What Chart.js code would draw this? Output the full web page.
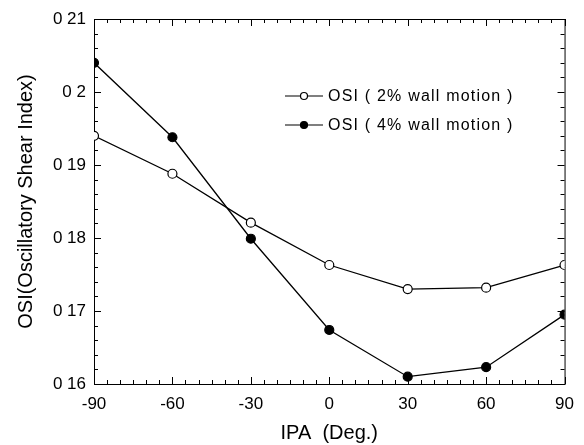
<!DOCTYPE html>
<html>
<head>
<meta charset="utf-8">
<script src="https://cdn.jsdelivr.net/npm/chart.js@4/dist/chart.umd.min.js"></script>
<style>
  html, body { margin: 0; padding: 0; background: #fff; }
  #wrap { width: 584px; height: 445px; }
</style>
</head>
<body>
<div id="wrap"><canvas id="osiChart" width="584" height="445"></canvas></div>
<script>
"use strict";

const ipaAngles = [-90, -60, -30, 0, 30, 60, 90];
const osiWall2 = [0.1940, 0.1888, 0.1821, 0.1763, 0.1730, 0.1732, 0.1763];
const osiWall4 = [0.2040, 0.1938, 0.1799, 0.1674, 0.1610, 0.1623, 0.1695];
const xTickLabels = ["-90", "-60", "-30", "0", "30", "60", "90"];
const yTickValues = [0.16, 0.17, 0.18, 0.19, 0.20, 0.21];
const yTickLabels = ["0 16", "0 17", "0 18", "0 19", "0 2", "0 21"];
const seriesLabels = ["OSI ( 2% wall motion )", "OSI ( 4% wall motion )"];

const FONT = "'Liberation Sans', Arial, sans-serif";

function toPoints(values) {
  return ipaAngles.map((a, i) => ({ x: a, y: values[i] }));
}

// inward tick marks on all four sides, like the old plotting package
const frameTicks = {
  id: "frameTicks",
  beforeDatasetsDraw(chart) {
    const { ctx, chartArea: area, scales } = chart;
    const xs = scales.x, ys = scales.y;
    ctx.save();
    ctx.strokeStyle = "#000";
    ctx.lineWidth = 1;
    ctx.strokeRect(area.left + 0.5, area.top + 0.5, area.right - area.left, area.bottom - area.top);

    ctx.beginPath();
    for (let i = 0; i <= 36; i++) {
      const v = -90 + i * 5;
      const len = i % 6 === 0 ? 7 : 4;
      const px = Math.round(xs.getPixelForValue(v)) + 0.5;
      ctx.moveTo(px, area.bottom);
      ctx.lineTo(px, area.bottom - len);
      ctx.moveTo(px, area.top);
      ctx.lineTo(px, area.top + len);
    }
    for (let i = 0; i <= 25; i++) {
      const v = 0.16 + i * 0.002;
      const len = i % 5 === 0 ? 7 : 4;
      const py = Math.round(ys.getPixelForValue(v)) + 0.5;
      ctx.moveTo(area.left, py);
      ctx.lineTo(area.left + len, py);
      ctx.moveTo(area.right, py);
      ctx.lineTo(area.right - len, py);
    }
    ctx.stroke();
    ctx.restore();
  }
};

// legend drawn inside the plot, line with marker in the middle
const insideLegend = {
  id: "insideLegend",
  afterDraw(chart) {
    const { ctx } = chart;
    const rows = [96, 125];
    ctx.save();
    chart.data.datasets.forEach((ds, i) => {
      const y = rows[i];
      ctx.strokeStyle = "#000";
      ctx.lineWidth = 1.2;
      ctx.beginPath();
      ctx.moveTo(285, y);
      ctx.lineTo(323, y);
      ctx.stroke();
      ctx.beginPath();
      ctx.arc(304, y, 3.5, 0, Math.PI * 2);
      ctx.fillStyle = ds.pointBackgroundColor;
      ctx.fill();
      ctx.stroke();
      ctx.fillStyle = "#000";
      ctx.font = "16px " + FONT;
      ctx.letterSpacing = "1.2px";
      ctx.textBaseline = "middle";
      ctx.fillText(ds.label, 328, y + 1);
    });
    ctx.restore();
  }
};

new Chart(document.getElementById("osiChart"), {
  type: "line",
  data: {
    datasets: [
      {
        label: seriesLabels[0],
        data: toPoints(osiWall2),
        borderColor: "#000",
        borderWidth: 1.3,
        pointRadius: 4.5,
        pointBorderWidth: 1.2,
        pointBackgroundColor: "#fff",
        pointBorderColor: "#000",
        tension: 0
      },
      {
        label: seriesLabels[1],
        data: toPoints(osiWall4),
        borderColor: "#000",
        borderWidth: 1.3,
        pointRadius: 4.5,
        pointBorderWidth: 1.2,
        pointBackgroundColor: "#000",
        pointBorderColor: "#000",
        tension: 0
      }
    ]
  },
  options: {
    responsive: false,
    animation: false,
    devicePixelRatio: 1,
    layout: { padding: { left: 0, right: 17, top: 19, bottom: 0 } },
    plugins: {
      legend: { display: false },
      tooltip: { enabled: false }
    },
    scales: {
      x: {
        type: "linear",
        min: -90,
        max: 90,
        afterBuildTicks: (scale) => { scale.ticks = ipaAngles.map(v => ({ value: v })); },
        afterFit: (scale) => { scale.height = 61; },
        grid: { display: false, drawTicks: false },
        border: { display: false },
        ticks: {
          autoSkip: false,
          maxRotation: 0,
          padding: 10,
          color: "#000",
          font: { family: FONT, size: 17 },
          callback: (value, index) => xTickLabels[index]
        },
        title: {
          display: true,
          text: "IPA  (Deg.)",
          color: "#000",
          font: { family: FONT, size: 20 },
          padding: { top: 0, bottom: 0 }
        }
      },
      y: {
        type: "linear",
        min: 0.16,
        max: 0.21,
        afterBuildTicks: (scale) => { scale.ticks = yTickValues.map(v => ({ value: v })); },
        afterFit: (scale) => { scale.width = 94; },
        grid: { display: false, drawTicks: false },
        border: { display: false },
        ticks: {
          padding: 8,
          color: "#000",
          font: { family: FONT, size: 17 },
          callback: (value, index) => yTickLabels[index]
        },
        title: {
          display: true,
          text: "OSI(Oscillatory Shear Index)",
          color: "#000",
          font: { family: FONT, size: 20 },
          padding: { top: 14, bottom: 0 }
        }
      }
    }
  },
  plugins: [frameTicks, insideLegend]
});
</script>
</body>
</html>
